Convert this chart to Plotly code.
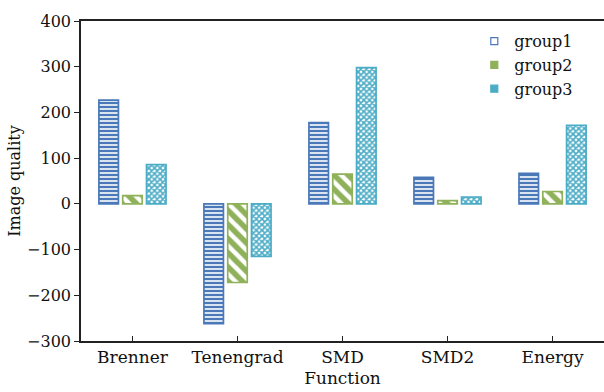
import plotly.graph_objects as go

categories = ["Brenner", "Tenengrad", "SMD", "SMD2", "Energy"]
group1 = [227, -262, 178, 58, 67]
group2 = [18, -172, 65, 7, 27]
group3 = [86, -115, 298, 15, 172]
y_ticks = [-300, -200, -100, 0, 100, 200, 300, 400]
series_names = ["group1", "group2", "group3"]

FONT = "DejaVu Serif"
FS = 16
C1, C2, C3 = "#4a78b8", "#8fb15a", "#4bacc6"

fig = go.Figure()
fig.add_trace(go.Bar(
    name=series_names[0], x=categories, y=group1, showlegend=False,
    marker=dict(color="white", line=dict(color=C1, width=1.7),
                pattern=dict(shape="-", fgcolor=C1, bgcolor="white", fgopacity=1,
                             size=4, solidity=0.6)),
))
fig.add_trace(go.Bar(
    name=series_names[1], x=categories, y=group2, showlegend=False,
    marker=dict(color="white", line=dict(color=C2, width=1.7),
                pattern=dict(shape="\\", fgcolor=C2, bgcolor="white", fgopacity=1,
                             size=10, solidity=0.55)),
))
fig.add_trace(go.Bar(
    name=series_names[2], x=categories, y=group3, showlegend=False,
    marker=dict(color="white", line=dict(color=C3, width=1.7),
                pattern=dict(shape="x", fgcolor=C3, bgcolor="white", fgopacity=1,
                             size=4, solidity=0.65)),
))

# legend entries with small square swatches
for name, sym, col in zip(series_names, ["square-open", "square", "square"], [C1, C2, C3]):
    fig.add_trace(go.Scatter(
        name=name, x=[None], y=[None], mode="markers",
        marker=dict(symbol=sym, size=7, color=col, line=dict(color=col, width=1.2)),
    ))

fig.update_layout(
    width=604, height=392,
    margin=dict(l=81, r=0, t=21, b=51),
    paper_bgcolor="white", plot_bgcolor="white",
    barmode="group", bargap=0.32, bargroupgap=0.18,
    font=dict(family=FONT, size=FS, color="#111111"),
    showlegend=True,
    legend=dict(x=0.752, y=0.99, xanchor="left", yanchor="top",
                font=dict(family=FONT, size=16), bgcolor="rgba(0,0,0,0)",
                itemwidth=30, tracegroupgap=0),
)
fig.update_xaxes(
    range=[-0.49, 4.49], showline=True, linecolor="#222222", linewidth=1.5, mirror=True,
    ticks="inside", ticklen=5, tickcolor="#222222", showgrid=False, zeroline=False,
    automargin=False, tickfont=dict(size=17),
    title=dict(text="Function", standoff=6, font=dict(family=FONT, size=17)),
)
fig.update_yaxes(
    range=[-300, 400], tickvals=y_ticks,
    ticktext=[("−" + str(abs(v))) if v < 0 else str(v) for v in y_ticks],
    showline=True, linecolor="#222222", linewidth=1.5,
    ticks="outside", ticklen=5, tickcolor="#222222", showgrid=False, zeroline=False,
    automargin=False,
    title=dict(text="Image quality", standoff=2, font=dict(family=FONT, size=FS)),
)

fig.write_html("out.html", config={"displayModeBar": False},
               post_script="document.body.style.margin='0px';document.body.style.padding='0px';")
